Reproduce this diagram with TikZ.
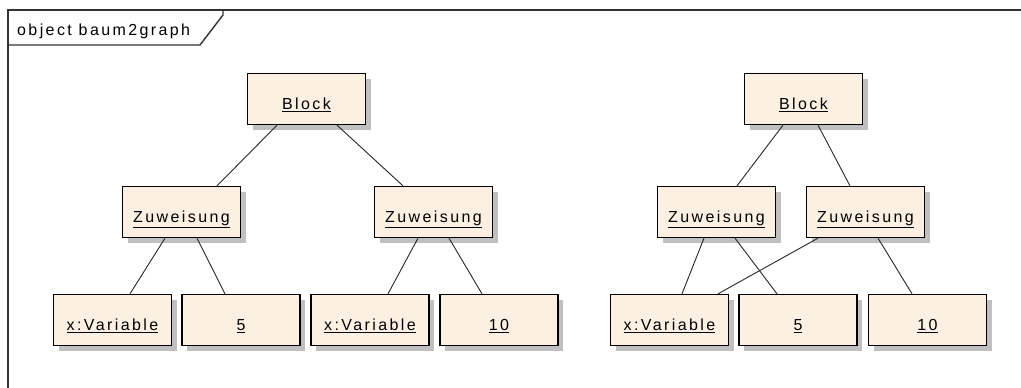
\documentclass[tikz,border=0pt]{standalone}
\usepackage{fontspec}
\newfontfamily\umlfont[LetterSpace=15]{Liberation Sans}
\usetikzlibrary{calc}
\definecolor{objfill}{RGB}{251,240,226}
\definecolor{objshadow}{RGB}{192,192,192}
\definecolor{framecol}{RGB}{50,50,50}
\tikzset{
  obj/.style={draw=black, line width=1.3pt, fill=objfill,
    minimum width=118pt, minimum height=51pt, inner sep=0pt,
    font=\umlfont\fontsize{16}{18}\selectfont,
    preaction={fill=objshadow, draw=none, transform canvas={xshift=5pt, yshift=-5pt}}},
  link/.style={draw=black!85, line width=0.9pt},
  frame/.style={draw=framecol, line width=1.4pt}
}
% underlined object name, baseline set below the box centre
\newcommand{\ul}[1]{\raisebox{-10.5pt}[0pt][0pt]{\underline{#1}}}
\begin{document}
\begin{tikzpicture}[x=1pt, y=-1pt]
  \useasboundingbox (0,0) rectangle (1021,388);
  % diagram frame and its name tab
  \draw[frame] (8,388) -- (8,10) -- (1021,10);
  \draw[frame] (8,45) -- (200,45) -- (223,15) -- (223,10);
  \node[anchor=base west, inner sep=0pt, font=\umlfont\fontsize{16}{18}\selectfont] (title) at (17,35) {object baum2graph};

  % tree on the left
  \node[obj] (b1) at (306.5,99) {\ul{Block}};
  \node[obj] (z1) at (181.5,212) {\ul{Zuweisung}};
  \node[obj] (z2) at (433.5,212) {\ul{Zuweisung}};
  \node[obj] (v1) at (112.5,320) {\ul{x:Variable}};
  \node[obj] (n1) at (241,320) {\ul{5}};
  \node[obj] (v2) at (370,320) {\ul{x:Variable}};
  \node[obj] (n2) at (499,320) {\ul{10}};

  % shared graph on the right
  \node[obj] (b2) at (803.5,99) {\ul{Block}};
  \node[obj] (z3) at (716.5,212) {\ul{Zuweisung}};
  \node[obj] (z4) at (865.5,212) {\ul{Zuweisung}};
  \node[obj] (v3) at (669.5,320) {\ul{x:Variable}};
  \node[obj] (n3) at (798,320) {\ul{5}};
  \node[obj] (n4) at (927.5,320) {\ul{10}};

  % links of the tree
  \draw[link] ([xshift=-29.5pt]b1.south) -- ([xshift=35.5pt]z1.north);
  \draw[link] ([xshift=30.5pt]b1.south) -- ([xshift=-30.5pt]z2.north);
  \draw[link] ([xshift=-16.5pt]z1.south) -- ([xshift=17.5pt]v1.north);
  \draw[link] ([xshift=15.5pt]z1.south) -- ([xshift=-16pt]n1.north);
  \draw[link] ([xshift=-15.5pt]z2.south) -- ([xshift=18pt]v2.north);
  \draw[link] ([xshift=15.5pt]z2.south) -- ([xshift=-17pt]n2.north);

  % links of the graph
  \draw[link] ([xshift=-20.5pt]b2.south) -- ([xshift=20.5pt]z3.north);
  \draw[link] ([xshift=14.5pt]b2.south) -- ([xshift=-15.5pt]z4.north);
  \draw[link] ([xshift=-12.5pt]z3.south) -- ([xshift=12.5pt]v3.north);
  \draw[link] ([xshift=18.5pt]z3.south) -- ([xshift=-21pt]n3.north);
  \draw[link] ([xshift=-47.5pt]z4.south) -- ([xshift=48.5pt]v3.north);
  \draw[link] ([xshift=12.5pt]z4.south) -- ([xshift=-15.5pt]n4.north);
\end{tikzpicture}
\end{document}
